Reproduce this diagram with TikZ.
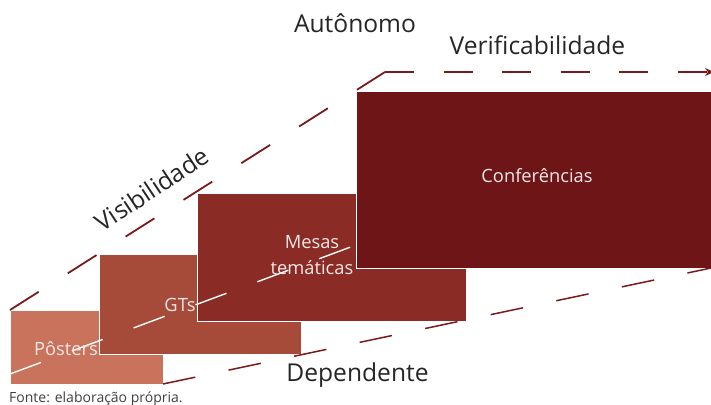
\documentclass[tikz,border=0pt]{standalone}
\usepackage{fontspec}
\setmainfont{Open Sans}
\usetikzlibrary{arrows.meta}
\definecolor{cposter}{HTML}{C9735D}
\definecolor{cgts}{HTML}{A64B39}
\definecolor{cmesas}{HTML}{8A2C25}
\definecolor{cconf}{HTML}{6D1517}
\definecolor{cline}{HTML}{7A1A1C}
\definecolor{ctext}{HTML}{262626}
\definecolor{cinner}{HTML}{F4E8E7}
\definecolor{cfonte}{HTML}{404040}
\begin{document}
\begin{tikzpicture}[x=1pt,y=-1pt,
  box/.style={draw=white,line width=0.5pt,inner sep=0pt,outer sep=0pt},
  lbl/.style={text=ctext,inner sep=0pt,anchor=base,font=\fontsize{24.6}{28}\selectfont},
  inlbl/.style={text=cinner,inner sep=0pt,anchor=base,font=\fontsize{18.3}{22}\selectfont},
  redline/.style={draw=cline,line width=1.8pt},
  whiteline/.style={draw=white,line width=1.4pt,dash pattern=on 33pt off 33pt}]
\useasboundingbox (0,0) rectangle (711,404);
\fill[white] (0,0) rectangle (711,404);
% boxes
\node[box,fill=cposter,minimum width=153pt,minimum height=74pt] (posters) at (86.5,347) {};
\node[box,fill=cgts,minimum width=202pt,minimum height=100pt] (gts) at (200,304) {};
\node[box,fill=cmesas,minimum width=269pt,minimum height=128pt] (mesas) at (331.5,257) {};
\coordinate (w1) at (10,374);
\coordinate (w2) at (356,245);
\draw[whiteline] (w1) -- (w2);
\node[box,fill=cconf,minimum width=359pt,minimum height=177pt] (conf) at (535.5,179.5) {};
% dashed lines
\coordinate (corner) at (385,72);
\coordinate (arrowend) at (714,72);
\draw[redline,dash pattern=on 34pt off 34.5pt] (posters.north west) -- (corner);
\draw[redline,dash pattern=on 29pt off 29.5pt,-{Stealth[length=9pt,width=8pt]}] (corner) -- (arrowend);
\coordinate (lowend) at (711,268);
\draw[redline,line width=1.5pt,dash pattern=on 33pt off 34pt] (posters.south east) -- (lowend);
% labels
\node[lbl] (auto) at (355,33) {Autônomo};
\node[lbl] (verif) at (537.5,55) {Verificabilidade};
\node[lbl] (dep) at (357.5,381) {Dependente};
\node[lbl,rotate=33.5] (vis) at (157,196.5) {Visibilidade};
\node[inlbl] (tconf) at (537,182) {Conferências};
\node[inlbl] (tpost) at (66,355) {Pôsters};
\node[inlbl] (tgts) at (180,311) {GTs};
\node[inlbl] (tmes1) at (312,248) {Mesas};
\node[inlbl] (tmes2) at (312,274) {temáticas};
\node[text=cfonte,inner sep=0pt,anchor=base west,font=\fontsize{14}{16}\selectfont] (fonte) at (9,402) {Fonte: elaboração própria.};
\end{tikzpicture}
\end{document}
